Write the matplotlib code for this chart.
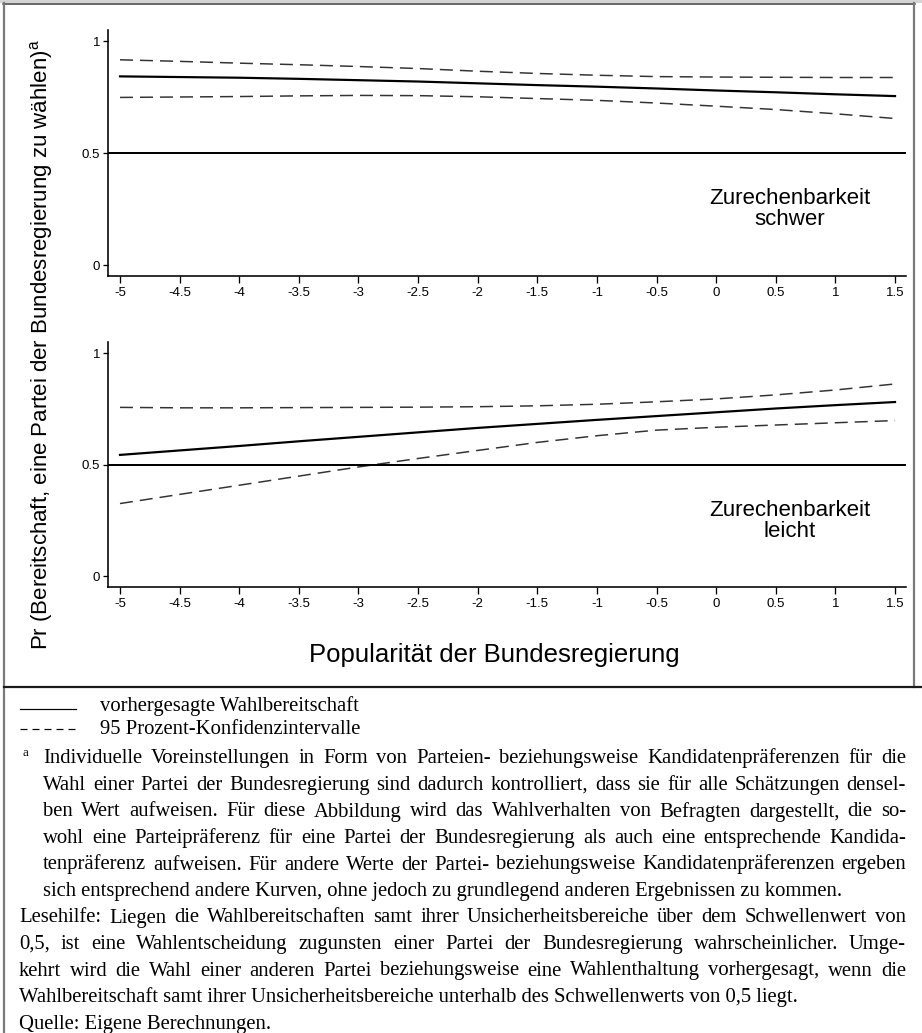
import matplotlib
matplotlib.use("Agg")
import matplotlib.pyplot as plt
from matplotlib.lines import Line2D
from matplotlib.patches import Rectangle

# ---------------- data ----------------
x_vals = [-5, -4.5, -4, -3.5, -3, -2.5, -2, -1.5, -1, -0.5, 0, 0.5, 1, 1.5]
x_ticks = [-5, -4.5, -4, -3.5, -3, -2.5, -2, -1.5, -1, -0.5, 0, 0.5, 1, 1.5]
x_tick_labels = ["-5", "-4.5", "-4", "-3.5", "-3", "-2.5", "-2", "-1.5", "-1", "-0.5", "0", "0.5", "1", "1.5"]
y_ticks = [0, 0.5, 1]
y_tick_labels = ["0", "0.5", "1"]
threshold = 0.5

# Zurechenbarkeit schwer
schwer_pred = [0.843, 0.840, 0.837, 0.832, 0.826, 0.820, 0.812, 0.804, 0.797, 0.789, 0.780, 0.772, 0.763, 0.755]
schwer_upper = [0.917, 0.910, 0.902, 0.895, 0.887, 0.878, 0.866, 0.856, 0.848, 0.842, 0.840, 0.839, 0.838, 0.838]
schwer_lower = [0.749, 0.751, 0.753, 0.756, 0.758, 0.757, 0.752, 0.744, 0.736, 0.724, 0.710, 0.695, 0.676, 0.655]
# Zurechenbarkeit leicht
leicht_pred = [0.544, 0.564, 0.584, 0.605, 0.625, 0.645, 0.665, 0.683, 0.701, 0.718, 0.735, 0.752, 0.767, 0.781]
leicht_upper = [0.757, 0.755, 0.755, 0.756, 0.757, 0.758, 0.760, 0.764, 0.771, 0.782, 0.795, 0.813, 0.835, 0.862]
leicht_lower = [0.326, 0.367, 0.408, 0.449, 0.490, 0.528, 0.564, 0.600, 0.630, 0.655, 0.668, 0.678, 0.688, 0.698]

panel_labels = ["Zurechenbarkeit\nschwer", "Zurechenbarkeit\nleicht"]
y_label = r"Pr (Bereitschaft, eine Partei der Bundesregierung zu wählen)$^{\mathrm{a}}$"
x_label = "Popularität der Bundesregierung"
legend_texts = ["vorhergesagte Wahlbereitschaft", "95 Prozent-Konfidenzintervalle"]
note_lines = [
    "Individuelle Voreinstellungen in Form von Parteien- beziehungsweise Kandidatenpräferenzen für die",
    "Wahl einer Partei der Bundesregierung sind dadurch kontrolliert, dass sie für alle Schätzungen densel-",
    "ben Wert aufweisen. Für diese Abbildung wird das Wahlverhalten von Befragten dargestellt, die so-",
    "wohl eine Parteipräferenz für eine Partei der Bundesregierung als auch eine entsprechende Kandida-",
    "tenpräferenz aufweisen. Für andere Werte der Partei- beziehungsweise Kandidatenpräferenzen ergeben",
    "sich entsprechend andere Kurven, ohne jedoch zu grundlegend anderen Ergebnissen zu kommen.",
]
read_lines = [
    "Lesehilfe: Liegen die Wahlbereitschaften samt ihrer Unsicherheitsbereiche über dem Schwellenwert von",
    "0,5, ist eine Wahlentscheidung zugunsten einer Partei der Bundesregierung wahrscheinlicher. Umge-",
    "kehrt wird die Wahl einer anderen Partei beziehungsweise eine Wahlenthaltung vorhergesagt, wenn die",
    "Wahlbereitschaft samt ihrer Unsicherheitsbereiche unterhalb des Schwellenwerts von 0,5 liegt.",
]
source_line = "Quelle: Eigene Berechnungen."

# ---------------- style ----------------
plt.rcParams["font.family"] = ["Liberation Sans", "DejaVu Sans"]
plt.rcParams["mathtext.fontset"] = "custom"
plt.rcParams["mathtext.rm"] = "Liberation Sans"
plt.rcParams["lines.scale_dashes"] = False

W, H = 922, 1033
fig = plt.figure(figsize=(W / 100, H / 100), dpi=100)


def fx(px):
    return px / W


def fy(py):
    return 1 - py / H


PX = 72 / 100  # points per pixel

panels = [
    (276, 246, schwer_pred, schwer_upper, schwer_lower, panel_labels[0]),
    (587, 245, leicht_pred, leicht_upper, leicht_lower, panel_labels[1]),
]
for bottom_px, height_px, pred, up, lo, lab in panels:
    ax = fig.add_axes([fx(108), fy(bottom_px), fx(906) - fx(108), height_px / H])
    ax.plot(x_vals, up, color="#333333", lw=1.5 * PX, dashes=(13 * PX, 7 * PX))
    ax.plot(x_vals, lo, color="#333333", lw=1.5 * PX, dashes=(13 * PX, 7 * PX))
    ax.plot(x_vals, pred, color="black", lw=2.2 * PX)
    ax.axhline(threshold, color="black", lw=2 * PX)
    ax.set_xlim(-5.1006, 1.592)
    ax.set_ylim(-0.048, 1.05)
    ax.set_xticks(x_ticks)
    ax.set_xticklabels(x_tick_labels)
    ax.set_yticks(y_ticks)
    ax.set_yticklabels(y_tick_labels)
    ax.tick_params(axis="x", direction="out", length=7 * PX, width=1.3 * PX,
                   labelsize=9.5, pad=3, colors="black")
    ax.tick_params(axis="y", direction="out", length=5 * PX, width=1.3 * PX,
                   labelsize=9.5, pad=2, colors="black")
    for s in ["top", "right"]:
        ax.spines[s].set_visible(False)
    for s in ["left", "bottom"]:
        ax.spines[s].set_linewidth(1.6 * PX)
    ax.patch.set_alpha(0)
    ax.text(0.62, 0.25, lab, ha="center", va="center", fontsize=16,
            linespacing=1.0)

fig.text(fx(42), fy(345), y_label, rotation=90, ha="center", va="center",
         fontsize=16)
fig.text(fx(494), fy(655), x_label, ha="center", va="center", fontsize=18.5)

# ---------------- frame ----------------
fig.add_artist(Rectangle((0, fy(3)), 1, 3 / H, transform=fig.transFigure,
                         facecolor="#d4d4d4", edgecolor="none"))
fig.add_artist(Line2D([fx(3), fx(915)], [fy(3.5), fy(3.5)], transform=fig.transFigure,
                      color="#3a3a3a", lw=1.5 * PX))
fig.add_artist(Line2D([fx(4), fx(4)], [fy(3), 0], transform=fig.transFigure,
                      color="#7a7a7a", lw=2.2 * PX))
fig.add_artist(Line2D([fx(914), fx(914)], [fy(3), fy(687)], transform=fig.transFigure,
                      color="#7a7a7a", lw=2.2 * PX))
fig.add_artist(Line2D([fx(4), 1], [fy(687), fy(687)], transform=fig.transFigure,
                      color="#1a1a1a", lw=2.2 * PX))

# ---------------- legend / notes ----------------
serif = ["Liberation Serif", "DejaVu Serif"]
fig.add_artist(Line2D([fx(20), fx(76)], [fy(709), fy(709)], transform=fig.transFigure,
                      color="black", lw=1.2 * PX))
fig.add_artist(Line2D([fx(20), fx(76)], [fy(729), fy(729)], transform=fig.transFigure,
                      color="black", lw=1.2 * PX, dashes=(7 * PX, 5 * PX)))

renderer = fig.canvas.get_renderer()


def measure(s, fs):
    t = fig.text(0, 0, s, fontsize=fs, family=serif)
    w = t.get_window_extent(renderer).width
    t.remove()
    return w


right_edge = 906
just_specs = [(43, l) for l in note_lines[:-1]] + [(19, l) for l in read_lines[:-1]]
fs0 = 14.0
space0 = measure("a a", fs0) - measure("aa", fs0)
ratio = 0
for x0, line in just_specs:
    words = line.split(" ")
    nat = sum(measure(w, fs0) for w in words) + space0 * (len(words) - 1)
    ratio = max(ratio, nat / (right_edge - x0))
fs = fs0 * 0.99 / ratio
fs = max(12.0, min(17.0, fs))


def put_line(line, x0, base, justify):
    if not justify:
        fig.text(fx(x0), fy(base), line, fontsize=fs, family=serif, va="baseline")
        return
    words = line.split(" ")
    ws = [measure(w, fs) for w in words]
    gap = (right_edge - x0 - sum(ws)) / (len(words) - 1)
    x = x0
    for w, wd in zip(words, ws):
        fig.text(fx(x), fy(base), w, fontsize=fs, family=serif, va="baseline")
        x += wd + gap


baselines = [711, 734, 763, 790, 816.5, 843, 869.5, 896, 922.5, 949, 975.5, 1002, 1028.5]
put_line(legend_texts[0], 100, baselines[0], False)
put_line(legend_texts[1], 100, baselines[1], False)
fig.text(fx(22), fy(baselines[2] - 7), "a", fontsize=fs * 0.62, family=serif, va="baseline")
for i, line in enumerate(note_lines):
    put_line(line, 43, baselines[2 + i], i < len(note_lines) - 1)
for i, line in enumerate(read_lines):
    put_line(line, 19, baselines[8 + i], i < len(read_lines) - 1)
put_line(source_line, 19, baselines[12], False)

fig.savefig("out.png", dpi=100)
